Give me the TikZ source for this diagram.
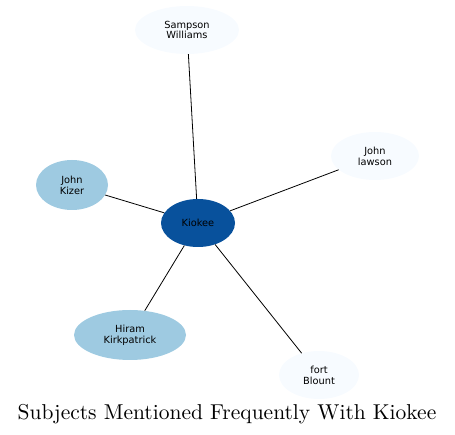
\documentclass[tikz,border=0pt]{standalone}
\usepackage{fontspec}
\newfontfamily\dejavu{DejaVu Sans}
\newfontfamily\titlefont{lmroman10-regular}[Extension=.otf]
\usepackage{tikz}
\usetikzlibrary{shapes.geometric}
\definecolor{bluepale}{HTML}{F7FBFF}
\definecolor{bluemid}{HTML}{9ECAE1}
\definecolor{bluedark}{HTML}{08519C}

\begin{document}
\begin{tikzpicture}[
  x=1pt, y=-1pt,
  subj/.style={
    ellipse, draw=none, inner sep=0pt, minimum height=48pt,
    align=center, font=\dejavu\fontsize{9.8}{10.8}\selectfont, fill=bluepale,
  },
  link/.style={draw=black, line width=0.8pt},
]
\useasboundingbox (0,0) rectangle (455,435);

% centre
\node[subj, fill=bluedark, minimum width=74pt] (kiokee) at (198,223) {Kiokee};

% surrounding subjects
\node[subj, minimum width=104pt] (sampson) at (187,30) {Sampson\\Williams};
\node[subj, minimum width=88pt] (lawson) at (375,156) {John\\lawson};
\node[subj, fill=bluemid, minimum width=72pt, minimum height=50pt] (kizer) at (72,185) {John\\Kizer};
\node[subj, fill=bluemid, minimum width=112pt, minimum height=50pt] (hiram) at (130,335) {Hiram\\Kirkpatrick};
\node[subj, minimum width=80pt] (blount) at (319,375) {fort\\Blount};

\draw[link] (kiokee) -- (sampson);
\draw[link] (kiokee) -- (lawson);
\draw[link] (kiokee) -- (kizer);
\draw[link] (kiokee) -- (hiram);
\draw[link] (kiokee) -- (blount);

\node[font=\titlefont\fontsize{21.5}{25}\selectfont] (title) at (227,414) {Subjects Mentioned Frequently With Kiokee};
\end{tikzpicture}
\end{document}
